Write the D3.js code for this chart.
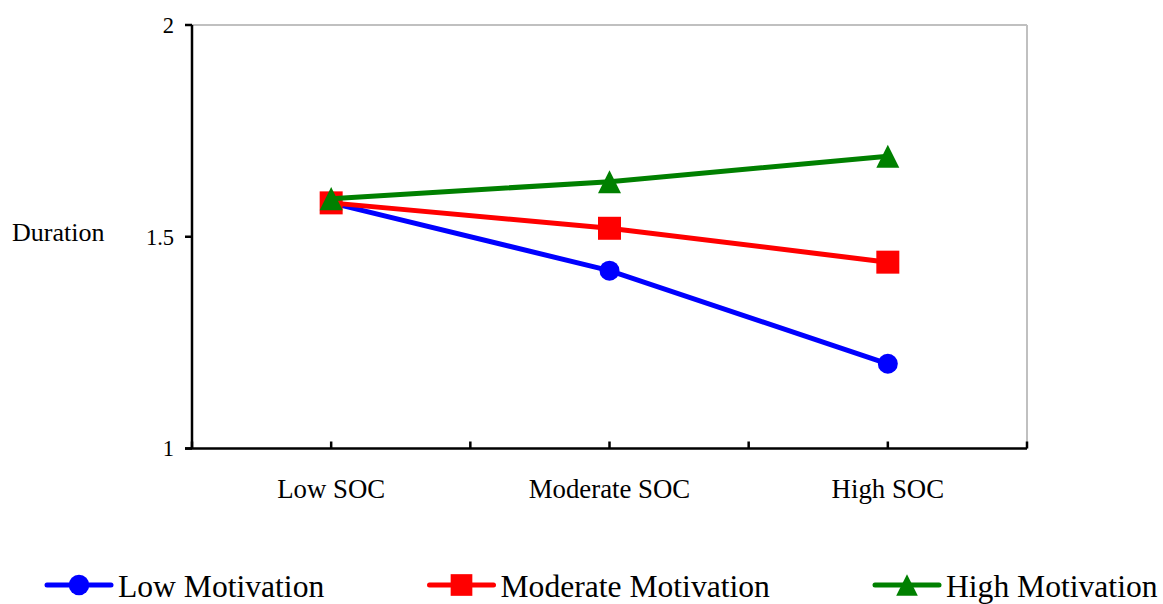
<!DOCTYPE html>
<html>
<head>
<meta charset="utf-8">
<script src="https://cdn.jsdelivr.net/npm/d3@7"></script>
<style>
html,body{margin:0;padding:0;background:#fff;}
svg{display:block;}
text{font-family:"Liberation Serif","Times New Roman",serif;fill:#000;}
</style>
</head>
<body>
<svg id="chart" width="1163" height="604"></svg>
<script>
const categories = ["Low SOC", "Moderate SOC", "High SOC"];
const seriesNames = ["Low Motivation", "Moderate Motivation", "High Motivation"];
const lowMotivation = [1.58, 1.42, 1.20];
const moderateMotivation = [1.58, 1.52, 1.44];
const highMotivation = [1.59, 1.63, 1.69];
const yTicks = [1, 1.5, 2];
const yTickLabels = ["1", "1.5", "2"];
const yTitle = "Duration";

// triangle with equal width and height, centred on its bounding box
const boxTriangle = {
  draw(ctx, size) {
    const h = Math.sqrt(size * 2) / 2;
    ctx.moveTo(0, -h);
    ctx.lineTo(h, h);
    ctx.lineTo(-h, h);
    ctx.closePath();
  }
};

const colors = ["#0000ff", "#ff0000", "#008000"];
const symbols = [d3.symbolCircle, d3.symbolSquare, boxTriangle];
const symSizes = [314, 529, 265];
const legSizes = [330, 470, 235];

const series = [lowMotivation, moderateMotivation, highMotivation].map((v, i) => ({name: seriesNames[i], values: v, color: colors[i], symbol: symbols[i], size: symSizes[i], legSize: legSizes[i]}));

const svg = d3.select("#chart");
const pLeft = 192, pRight = 1027, pTop = 25, pBottom = 448.5;

const x = d3.scaleBand().domain(categories).range([pLeft, pRight]).padding(0);
const y = d3.scaleLinear().domain([1, 2]).range([pBottom, pTop]);
const bw = x.bandwidth();

// gray plot frame (top & right)
svg.append("line").attr("x1", pLeft).attr("x2", pRight).attr("y1", pTop).attr("y2", pTop)
  .attr("stroke", "#c0c0c0").attr("stroke-width", 2);
svg.append("line").attr("x1", pRight).attr("x2", pRight).attr("y1", pTop).attr("y2", pBottom)
  .attr("stroke", "#c0c0c0").attr("stroke-width", 2);

// y axis
svg.append("line").attr("x1", pLeft).attr("x2", pLeft).attr("y1", pTop).attr("y2", pBottom)
  .attr("stroke", "#000").attr("stroke-width", 2.5);
yTicks.forEach((t, i) => {
  svg.append("line").attr("x1", pLeft - 7).attr("x2", pLeft).attr("y1", y(t)).attr("y2", y(t))
    .attr("stroke", "#000").attr("stroke-width", 2.5);
  svg.append("text").attr("x", pLeft - 18).attr("y", y(t)).attr("dy", "0.35em")
    .attr("text-anchor", "end").attr("font-size", 22.5).text(yTickLabels[i]);
});
svg.append("text").attr("x", 12).attr("y", 232).attr("dy", "0.35em")
  .attr("font-size", 26).text(yTitle);

// x axis
svg.append("line").attr("x1", pLeft - 7).attr("x2", pRight).attr("y1", pBottom).attr("y2", pBottom)
  .attr("stroke", "#000").attr("stroke-width", 2.5);
const xTickPos = [];
categories.forEach(c => { xTickPos.push(x(c)); xTickPos.push(x(c) + bw / 2); });
xTickPos.push(x.range()[1]);
xTickPos.forEach(p => {
  svg.append("line").attr("x1", p).attr("x2", p).attr("y1", pBottom - 7).attr("y2", pBottom)
    .attr("stroke", "#000").attr("stroke-width", 2.5);
});
categories.forEach(c => {
  svg.append("text").attr("x", x(c) + bw / 2).attr("y", 498)
    .attr("text-anchor", "middle").attr("font-size", 26.8).text(c);
});

// lines + markers
const line = d3.line().x((d, i) => x(categories[i]) + bw / 2).y(d => y(d));
series.forEach(s => {
  svg.append("path").datum(s.values).attr("d", line)
    .attr("fill", "none").attr("stroke", s.color).attr("stroke-width", 5);
  svg.selectAll(null).data(s.values).enter().append("path")
    .attr("transform", (d, i) => `translate(${x(categories[i]) + bw / 2},${y(d)})`)
    .attr("d", d3.symbol().type(s.symbol).size(s.size)())
    .attr("fill", s.color);
});

// legend
const legendX = [47, 429.5, 875];
const legY = 585;
series.forEach((s, i) => {
  const g = svg.append("g").attr("transform", `translate(${legendX[i]},${legY})`);
  g.append("line").attr("x1", 0).attr("x2", 64).attr("y1", 0).attr("y2", 0)
    .attr("stroke", s.color).attr("stroke-width", 5).attr("stroke-linecap", "round");
  g.append("path").attr("transform", "translate(32,0)")
    .attr("d", d3.symbol().type(s.symbol).size(s.legSize)()).attr("fill", s.color);
  g.append("text").attr("x", 71).attr("y", 1).attr("dy", "0.35em")
    .attr("font-size", 31.6).text(s.name);
});
</script>
</body>
</html>
